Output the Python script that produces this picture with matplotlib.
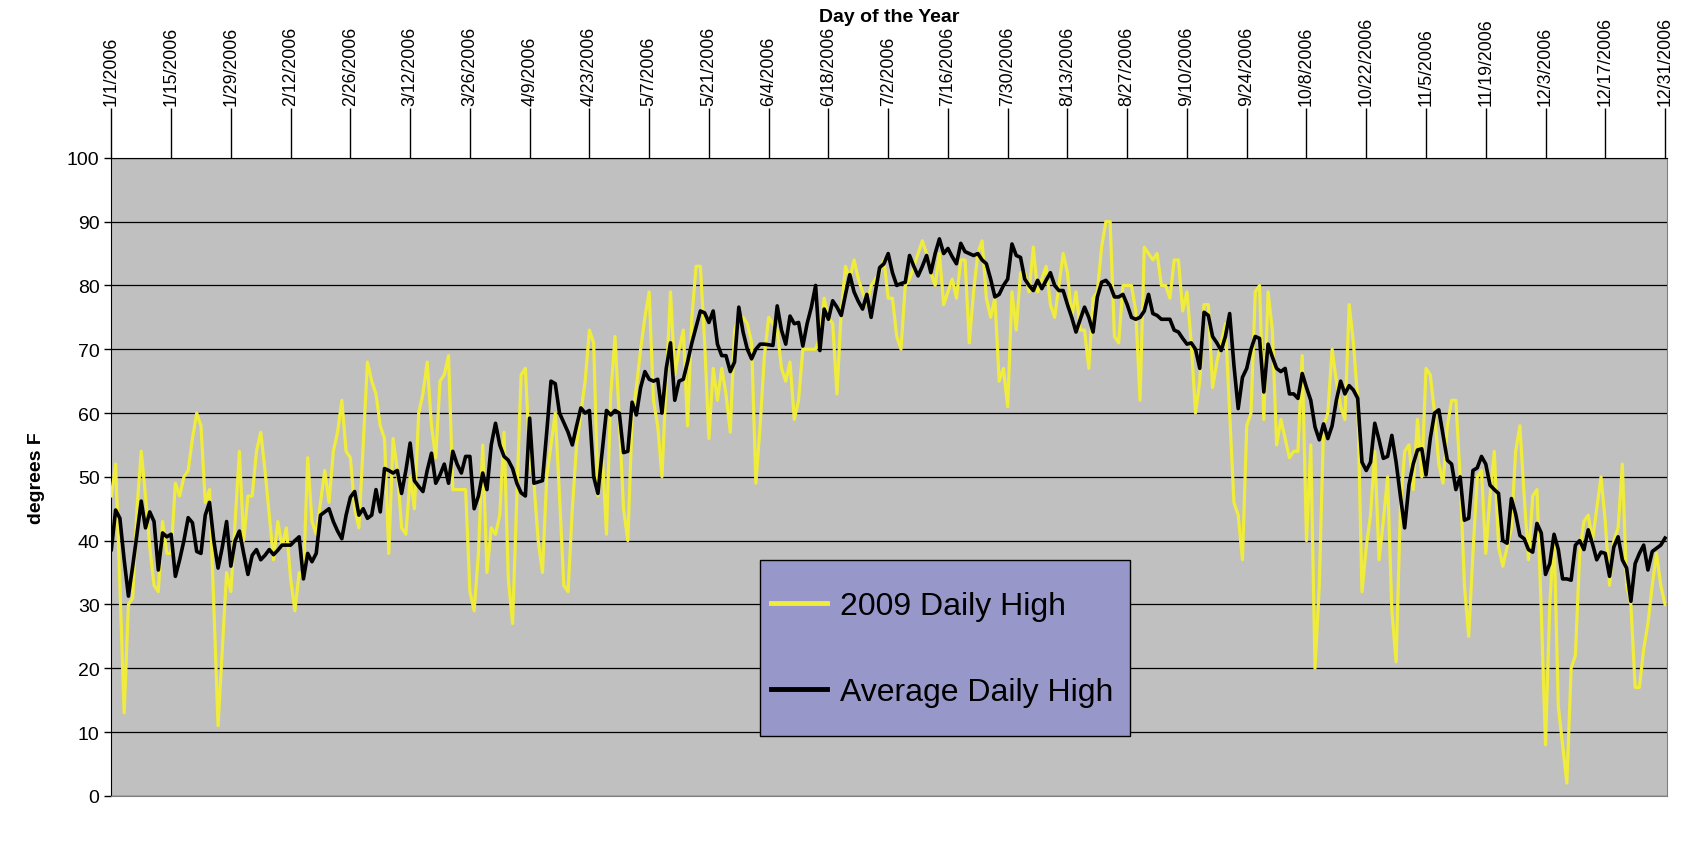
import numpy as np
import pandas as pd
import matplotlib
matplotlib.use("Agg")
import matplotlib.pyplot as plt
from matplotlib.patches import Rectangle

plt.rcParams['font.family'] = ['Liberation Sans', 'DejaVu Sans']

# daily highs, Jan 1 .. Dec 31
daily_high_2009 = [
    47, 52, 33, 13, 30, 31, 45, 54, 47, 39,
    33, 32, 43, 38, 38, 49, 47, 50, 51, 56,
    60, 58, 46, 48, 30, 11, 23, 35, 32, 43,
    54, 40, 47, 47, 54, 57, 51, 44, 37, 43,
    39, 42, 34, 29, 35, 34, 53, 43, 41, 46,
    51, 46, 54, 57, 62, 54, 53, 45, 42, 55,
    68, 65, 63, 58, 56, 38, 56, 51, 42, 41,
    50, 45, 60, 63, 68, 58, 53, 65, 66, 69,
    48, 48, 48, 48, 32, 29, 38, 55, 35, 42,
    41, 44, 57, 34, 27, 47, 66, 67, 53, 49,
    40, 35, 50, 55, 60, 47, 33, 32, 45, 55,
    60, 65, 73, 71, 47, 54, 41, 63, 72, 59,
    45, 40, 59, 64, 70, 75, 79, 62, 58, 50,
    65, 79, 66, 70, 73, 58, 75, 83, 83, 71,
    56, 67, 62, 67, 63, 57, 73, 75, 75, 74,
    71, 49, 58, 69, 75, 74, 73, 67, 65, 68,
    59, 62, 70, 70, 70, 70, 72, 78, 75, 74,
    63, 76, 83, 81, 84, 81, 79, 77, 80, 81,
    82, 84, 78, 78, 72, 70, 80, 81, 83, 85,
    87, 85, 82, 80, 85, 77, 79, 81, 78, 84,
    84, 71, 79, 85, 87, 78, 75, 78, 65, 67,
    61, 79, 73, 82, 82, 79, 86, 79, 81, 83,
    77, 75, 80, 85, 82, 75, 79, 73, 73, 67,
    78, 79, 86, 90, 90, 72, 71, 80, 80, 80,
    76, 62, 86, 85, 84, 85, 80, 80, 78, 84,
    84, 76, 79, 71, 60, 65, 77, 77, 64, 68,
    71, 74, 60, 46, 44, 37, 58, 60, 79, 80,
    59, 79, 73, 55, 59, 56, 53, 54, 54, 69,
    40, 55, 20, 33, 58, 60, 70, 65, 61, 59,
    77, 71, 62, 32, 39, 44, 54, 37, 43, 50,
    29, 21, 45, 54, 55, 48, 59, 50, 67, 66,
    60, 52, 49, 58, 62, 62, 50, 33, 25, 38,
    50, 51, 38, 47, 54, 39, 36, 39, 42, 54,
    58, 47, 37, 47, 48, 29, 8, 30, 41, 14,
    8, 2, 20, 22, 38, 43, 44, 40, 45, 50,
    43, 33, 40, 42, 52, 33, 30, 17, 17, 23,
    27, 33, 38, 33, 30,
]

average_high = [
    38.6, 44.8, 43.5, 37, 31.3, 36, 41, 46.2, 42, 44.5,
    43, 35.4, 41.2, 40.6, 41, 34.4, 37, 40, 43.6, 42.8,
    38.3, 38, 44, 46, 40, 35.7, 39, 43, 36, 40,
    41.5, 38, 34.7, 37.7, 38.6, 37, 37.7, 38.6, 37.8, 38.5,
    39.3, 39.3, 39.3, 40, 40.6, 34, 38, 36.7, 38, 44,
    44.5, 45, 43, 41.5, 40.3, 44, 46.8, 47.7, 44, 45,
    43.5, 44, 48, 44.5, 51.3, 51, 50.6, 51, 47.4, 51,
    55.3, 49.4, 48.5, 47.7, 51, 53.7, 49, 50.3, 52, 49,
    54, 52, 50.6, 53.2, 53.2, 45, 47, 50.6, 48, 55,
    58.4, 55, 53.2, 52.6, 51.3, 49, 47.5, 47, 59.2, 49,
    49.2, 49.4, 57, 65, 64.6, 60, 58.5, 57, 55, 58,
    60.8, 60, 60.4, 50, 47.4, 54, 60.4, 59.7, 60.4, 60,
    53.8, 54, 61.7, 59.7, 64, 66.5, 65.3, 65, 65.3, 60,
    67, 71, 62, 65, 65.3, 68, 71, 73.5, 76, 75.7,
    74.2, 76, 70.8, 69, 69, 66.5, 68, 76.6, 72.7, 70,
    68.5, 70, 70.8, 70.8, 70.7, 70.6, 76.8, 73, 70.8, 75.2,
    74, 74.2, 70.5, 74, 76.6, 80, 69.8, 76.3, 74.7, 77.6,
    76.6, 75.3, 78.6, 81.7, 79, 77.5, 76.3, 78.6, 75, 79,
    82.8, 83.4, 85, 82, 80, 80.3, 80.5, 84.7, 83, 81.5,
    83, 84.7, 82, 85, 87.3, 85, 85.8, 84.5, 83.4, 86.6,
    85.3, 85, 84.7, 85, 84, 83.4, 81, 78.2, 78.6, 80,
    81, 86.5, 84.7, 84.4, 81, 80, 79.2, 80.8, 79.5, 80.8,
    82, 80, 79.2, 79.2, 77, 75, 72.7, 74.7, 76.6, 75,
    72.7, 78.2, 80.5, 80.8, 80, 78.2, 78.2, 78.6, 77, 75,
    74.7, 75, 76, 78.6, 75.6, 75.3, 74.7, 74.7, 74.7, 73,
    72.7, 71.7, 70.8, 71, 70, 67, 75.8, 75.3, 72, 71,
    69.8, 72, 75.6, 67.5, 60.7, 65.6, 67, 70, 72, 71.7,
    63.3, 70.8, 68.8, 67, 66.5, 67, 63, 63, 62.3, 66.2,
    64, 62, 57.8, 55.8, 58.3, 56, 58, 62, 65, 63,
    64.3, 63.6, 62.3, 52.3, 51, 52.3, 58.4, 55.8, 52.9, 53.2,
    56.5, 52.3, 47, 42, 48.7, 52, 54.2, 54.4, 50.3, 56,
    60, 60.5, 56.5, 52.6, 52, 48, 50, 43.2, 43.5, 51,
    51.4, 53.2, 52, 48.7, 48, 47.4, 40, 39.6, 46.6, 44.2,
    40.8, 40.3, 38.6, 38.2, 42.7, 41.2, 34.7, 36.4, 41, 38.6,
    34, 34, 33.8, 39.3, 40, 38.6, 41.7, 39.5, 37, 38.2,
    38, 34.4, 39, 40.6, 37, 35.7, 30.5, 36.4, 38, 39.3,
    35.4, 38.3, 38.8, 39.3, 40.4,
]

tick_labels = [
    "1/1/2006", "1/15/2006", "1/29/2006", "2/12/2006", "2/26/2006", "3/12/2006",
    "3/26/2006", "4/9/2006", "4/23/2006", "5/7/2006", "5/21/2006", "6/4/2006",
    "6/18/2006", "7/2/2006", "7/16/2006", "7/30/2006", "8/13/2006", "8/27/2006",
    "9/10/2006", "9/24/2006", "10/8/2006", "10/22/2006", "11/5/2006", "11/19/2006",
    "12/3/2006", "12/17/2006", "12/31/2006",
]

dates = pd.date_range("2006-01-01", periods=len(daily_high_2009), freq="D")
tick_dates = pd.to_datetime(tick_labels, format="%m/%d/%Y")

W, H = 1684, 845
fig = plt.figure(figsize=(W / 100, H / 100), dpi=100)
ax = fig.add_axes([0.0657, 0.057, 0.9243, 0.755])
ax.set_facecolor("#C0C0C0")

ax.plot(dates, daily_high_2009, color="#F0EC3C", lw=2.3, label="2009 Daily High", zorder=3)
ax.plot(dates, average_high, color="black", lw=2.6, label="Average Daily High", zorder=4)

ax.set_ylim(0, 100)
ax.set_yticks(np.arange(0, 101, 10))
ax.set_xlim(dates[0] - pd.Timedelta(hours=4), dates[-1] + pd.Timedelta(hours=12))
ax.set_xticks(tick_dates)
ax.set_xticklabels(tick_labels, rotation=90, fontsize=12.8)
ax.xaxis.tick_top()
ax.tick_params(axis="x", length=36, width=1, pad=2, color="black")
ax.tick_params(axis="y", labelsize=14, length=5, width=1, pad=3)
ax.grid(axis="y", color="black", lw=0.9, zorder=1)
ax.set_axisbelow(True)

for side in ["right", "bottom"]:
    ax.spines[side].set_color("#808080")
ax.spines["left"].set_color("black")
ax.spines["top"].set_color("black")

fig.text(0.0657 + 0.9243 / 2, 1 - 17 / H, "Day of the Year", fontsize=14,
         fontweight="bold", ha="center", va="center")
ax.set_ylabel("degrees F", fontsize=14, fontweight="bold", labelpad=16)

# legend box
ax.add_patch(Rectangle((760 / W, 1 - 737 / H), 370 / W, 176 / H,
                       transform=fig.transFigure, facecolor="#9897C9",
                       edgecolor="black", lw=1.0, zorder=5, clip_on=False))
leg = ax.legend(loc="center left", bbox_to_anchor=(771 / W, 1 - 650 / H),
                bbox_transform=fig.transFigure, fontsize=23, frameon=False,
                borderpad=0, labelspacing=1.75, handlelength=1.75,
                handletextpad=0.4, borderaxespad=0)
leg.set_zorder(6)
for line in leg.get_lines():
    line.set_linewidth(3.5)

fig.savefig("out.png", dpi=100)
